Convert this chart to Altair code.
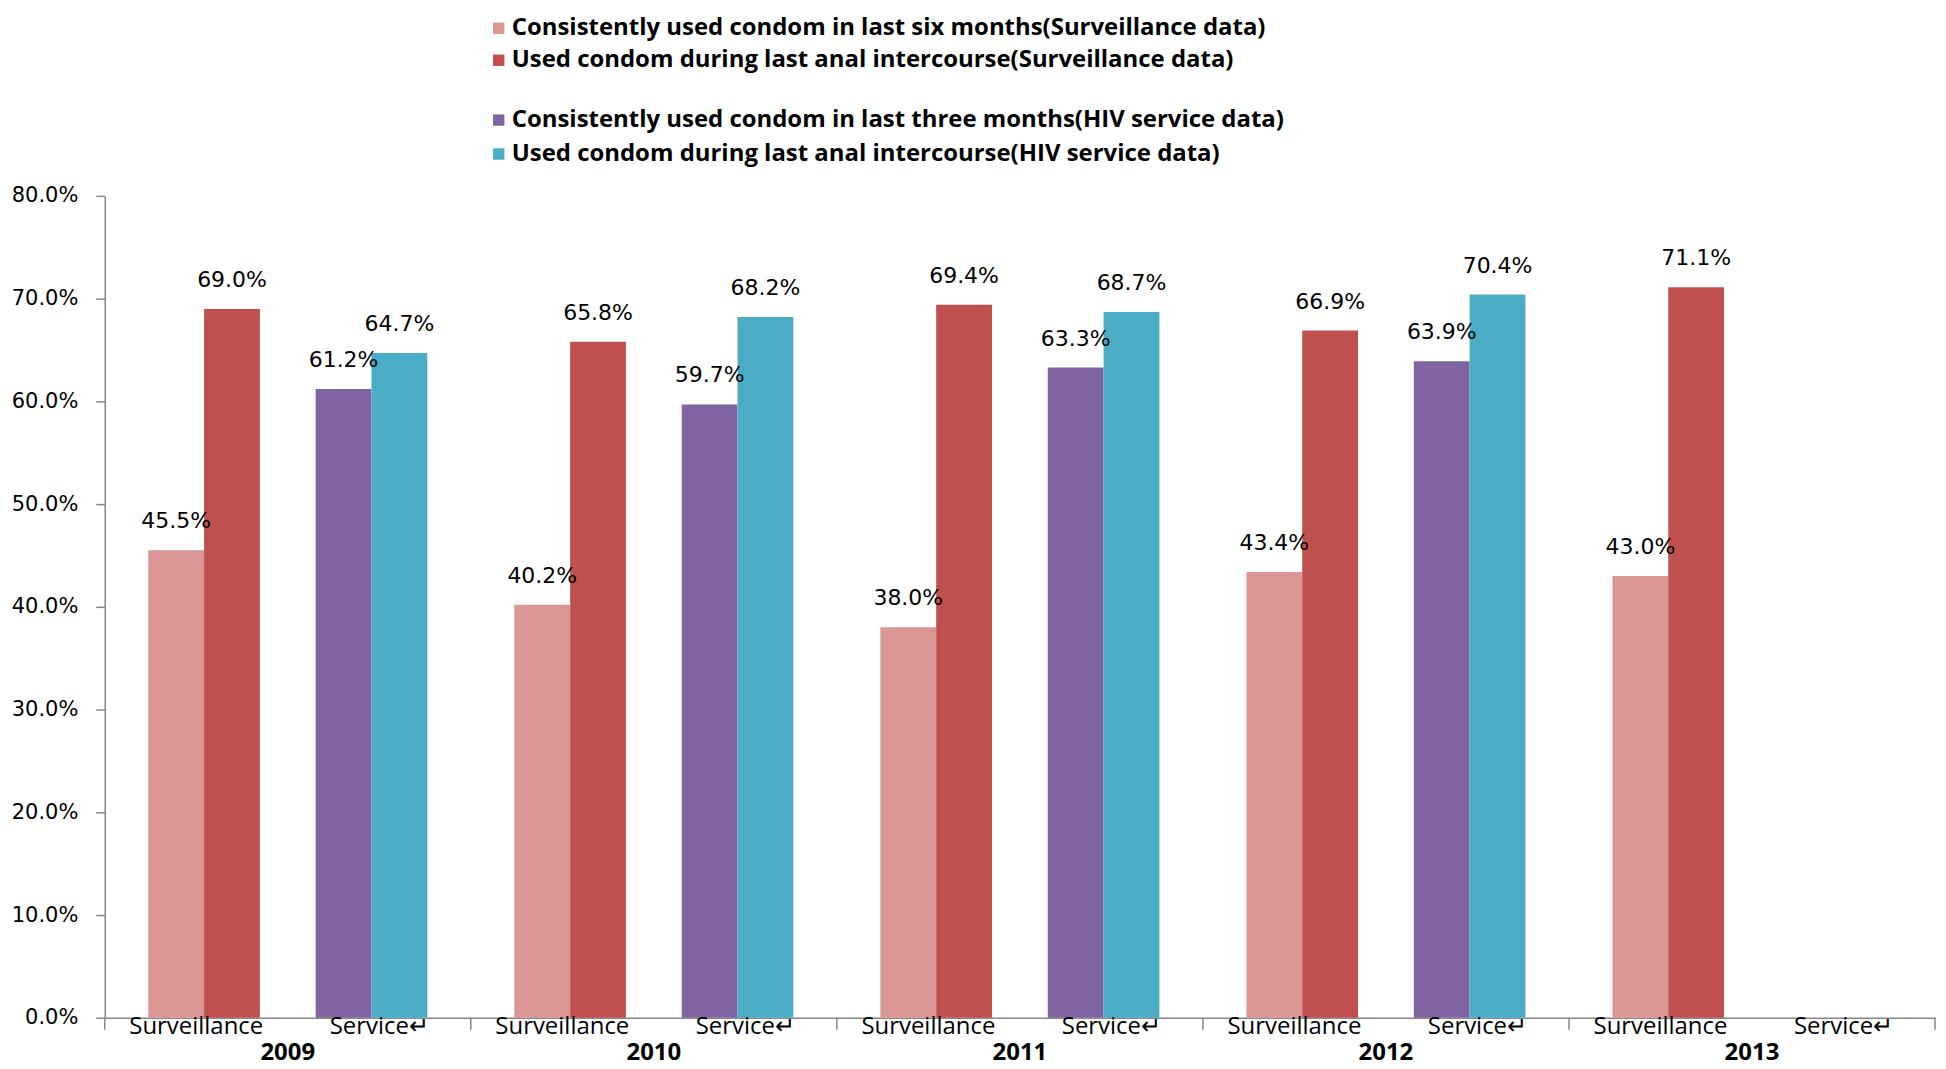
import altair as alt
import pandas as pd

years = ["2009", "2010", "2011", "2012", "2013"]
series = [
    "Consistently used condom in last six months(Surveillance data)",
    "Used condom during last anal intercourse(Surveillance data)",
    "Consistently used condom in last three months(HIV service data)",
    "Used condom during last anal intercourse(HIV service data)",
]
six_months_surv = [45.5, 40.2, 38.0, 43.4, 43.0]
last_anal_surv = [69.0, 65.8, 69.4, 66.9, 71.1]
three_months_serv = [61.2, 59.7, 63.3, 63.9, None]
last_anal_serv = [64.7, 68.2, 68.7, 70.4, None]
sub_labels = ["Surveillance", "Service\u21b5"]
y_ticks = [0.0, 0.1, 0.2, 0.3, 0.4, 0.5, 0.6, 0.7, 0.8]
colors = ["#D99694", "#C0504D", "#8064A2", "#4BACC6"]
groups = ["Surveillance", "Surveillance", "Service", "Service"]
slots = [0, 1, 3, 4]  # slot 2 is the empty gap between the two clusters of a year
slot_domain = [0, 1, 2, 3, 4]

rows = []
for s_name, vals, grp, slot in zip(series, [six_months_surv, last_anal_surv, three_months_serv, last_anal_serv], groups, slots):
    for y, v in zip(years, vals):
        if v is not None:
            rows.append({"year": y, "series": s_name, "group": grp, "slot": slot, "value": v / 100})
df = pd.DataFrame(rows)
years_df = pd.DataFrame({"year": years})

W, H = 1835, 824
GRAY = "#868686"
TXT_FONT = "Open Sans"


def xenc(band=None):
    kw = dict(
        sort=years,
        scale=alt.Scale(paddingInner=0, paddingOuter=0),
        axis=alt.Axis(labels=False, ticks=False, title=None, domainColor=GRAY, domainWidth=1.5),
    )
    if band is not None:
        kw["bandPosition"] = band
    return alt.X("year:N", **kw)


yenc = alt.Y(
    "value:Q",
    scale=alt.Scale(domain=[0, 0.8], nice=False),
    axis=alt.Axis(
        format=".1%", values=y_ticks, title=None, grid=False, tickSize=9, labelPadding=18,
        labelFontSize=21, labelFont="DejaVu Sans", labelColor="black",
        domainColor=GRAY, tickColor=GRAY, domainWidth=1.5, tickWidth=1.5,
    ),
)
xoff = alt.XOffset("slot:O", scale=alt.Scale(domain=slot_domain, paddingInner=0, paddingOuter=0.78))

base = alt.Chart(df)

bars_surv = base.transform_filter(alt.datum.group == "Surveillance").mark_bar().encode(
    x=xenc(), xOffset=xoff, y=yenc,
    color=alt.Color(
        "series:N",
        scale=alt.Scale(domain=series[:2], range=colors[:2]),
        legend=alt.Legend(title=None, orient="none", legendX=383, legendY=-180, rowPadding=8),
    ),
)
bars_serv = base.transform_filter(alt.datum.group == "Service").mark_bar().encode(
    x=xenc(), xOffset=xoff, y=yenc,
    fill=alt.Fill(
        "series:N",
        scale=alt.Scale(domain=series[2:], range=colors[2:]),
        legend=alt.Legend(title=None, orient="none", legendX=383, legendY=-88),
    ),
)
values_text = base.mark_text(font="DejaVu Sans", fontSize=22, baseline="bottom", dy=-17, color="black").encode(
    x=xenc(), xOffset=xoff, y=yenc, text=alt.Text("value:Q", format=".1%")
)

year_ticks = alt.Chart(years_df).mark_rule(color=GRAY, strokeWidth=1.5).encode(
    x=xenc(0), y=alt.value(H), y2=alt.value(H + 12)
)
end_tick = alt.Chart(years_df).transform_filter(alt.datum.year == years[-1]).mark_rule(color=GRAY, strokeWidth=1.5).encode(
    x=xenc(1), y=alt.value(H), y2=alt.value(H + 12)
)
surv_lab = alt.Chart(years_df).mark_text(font=TXT_FONT, fontSize=24, baseline="middle", color="black").encode(
    x=xenc(0.25), y=alt.value(H + 9), text=alt.value(sub_labels[0])
)
serv_lab = alt.Chart(years_df).mark_text(font=TXT_FONT, fontSize=24, baseline="middle", color="black").encode(
    x=xenc(0.75), y=alt.value(H + 9), text=alt.value(sub_labels[1])
)
year_lab = alt.Chart(years_df).mark_text(font=TXT_FONT, fontSize=24, fontWeight="bold", baseline="middle", color="black").encode(
    x=xenc(0.5), y=alt.value(H + 35), text="year:N"
)

chart = alt.layer(
    bars_surv, bars_serv, values_text, year_ticks, end_tick, surv_lab, serv_lab, year_lab
).properties(
    width=W, height=H,
    autosize=alt.AutoSizeParams(type="none"),
    padding={"left": 97, "top": 187, "right": 3, "bottom": 50},
).configure_view(stroke=None).configure_legend(
    labelFont=TXT_FONT, labelFontSize=24, labelFontWeight="bold", labelColor="black",
    symbolType="square", symbolSize=130, symbolStrokeWidth=0, rowPadding=10, padding=0,
    labelOffset=1, labelLimit=0,
)

chart.save("out.html", embed_options={"renderer": "svg", "actions": False})
